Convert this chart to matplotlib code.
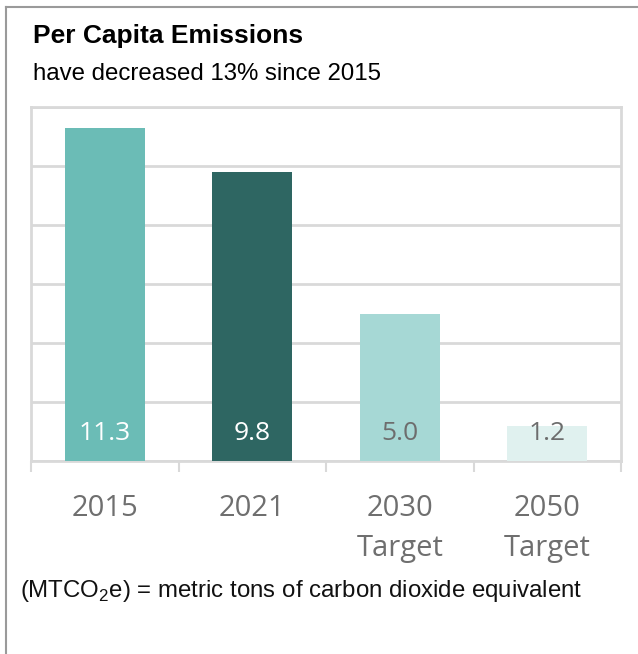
import numpy as np
import matplotlib
matplotlib.use("Agg")
import matplotlib.pyplot as plt
from matplotlib.lines import Line2D

# data
categories = ["2015", "2021", "2030\nTarget", "2050\nTarget"]
values = [11.3, 9.8, 5.0, 1.2]
bar_colors = ["#6bbcb6", "#2e6662", "#a6d8d5", "#e0f1ef"]
label_colors = ["white", "white", "#6d6d6d", "#6d6d6d"]
value_labels = ["11.3", "9.8", "5.0", "1.2"]

W, H = 638, 654
fig = plt.figure(figsize=(W / 100, H / 100), dpi=100)
fig.patch.set_facecolor("white")

plt.rcParams["mathtext.fontset"] = "custom"
plt.rcParams["mathtext.rm"] = "Liberation Sans"

grid_col = "#d9d9d9"

# plot area: x 31..621, y 107..461 (pixels)
ax = fig.add_axes([31 / W, 1 - 461 / H, 590 / W, 354 / H])
x = np.arange(len(categories))
ax.bar(x, values, width=0.54, color=bar_colors, zorder=3)
ax.set_xlim(-0.5, len(categories) - 0.5)
ax.set_ylim(0, 12)
ax.set_yticks(np.arange(0, 13, 2))
ax.yaxis.grid(True, color=grid_col, linewidth=2)
ax.tick_params(axis="y", length=0, labelleft=False)
for s in ax.spines.values():
    s.set_color(grid_col)
    s.set_linewidth(2)

ax.set_xticks(x)
ax.set_xticklabels(categories, fontfamily="Open Sans", fontsize=21,
                   color="#6f6f6f", linespacing=1.5)
ax.set_xticks(np.arange(-0.5, len(categories), 1), minor=True)
ax.tick_params(axis="x", which="major", length=0, pad=24)
ax.tick_params(axis="x", which="minor", length=8, width=1.5, color=grid_col)

for xi, lab, c in zip(x, value_labels, label_colors):
    ax.text(xi, 0.71, lab, ha="center", va="baseline", fontsize=19,
            fontfamily="Open Sans", color=c, zorder=4)

# titles
fig.text(33 / W, 1 - 43 / H, "Per Capita Emissions", fontsize=19,
         fontweight="bold", fontfamily="Liberation Sans", va="baseline")
fig.text(33 / W, 1 - 80 / H, "have decreased 13% since 2015", fontsize=17.3,
         fontfamily="Liberation Sans", va="baseline")
fig.text(20 / W, 1 - 597 / H, r"(MTCO$_\mathrm{2}$e) = metric tons of carbon dioxide equivalent",
         fontsize=17.3, fontfamily="Liberation Sans", va="baseline", color="#111111")

# outer card border (left + top)
fig.add_artist(Line2D([6 / W, 6 / W], [0, 1 - 7 / H], transform=fig.transFigure,
                      color="#9a9a9a", linewidth=1.5))
fig.add_artist(Line2D([6 / W, 1], [1 - 7 / H, 1 - 7 / H], transform=fig.transFigure,
                      color="#9a9a9a", linewidth=1.5))

fig.savefig("out.png", dpi=100)
